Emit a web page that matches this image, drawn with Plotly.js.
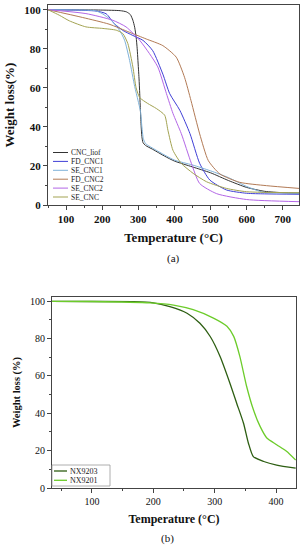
<!DOCTYPE html>
<html>
<head>
<meta charset="utf-8">
<script src="https://cdn.plot.ly/plotly-3.0.1.min.js"></script>
<style>html,body{margin:0;padding:0;background:#fff;}#chart{width:304px;height:550px;}</style>
</head>
<body>
<div id="chart"></div>
<script>
// ---- Panel (a) data ----
const namesA = ["CNC_liof", "FD_CNC1", "SE_CNC1", "FD_CNC2", "SE_CNC2", "SE_CNC"];
const colorsA = ["#333333", "#3f3fd6", "#7fb2d9", "#b27a55", "#b366e6", "#a3a352"];

const T_CNC_liof = [50, 150, 200, 250, 267, 278, 285, 290, 294, 297, 299, 302, 304, 306, 308, 310, 313, 320, 340, 373, 400, 450, 500, 550, 600, 650, 700, 745];
const W_CNC_liof = [100, 99.9, 99.8, 99.5, 98.9, 97.5, 94.6, 91, 86, 80, 74, 65, 57, 48, 40, 35, 32, 30.5, 28.5, 25, 22.5, 19.5, 16.5, 12.5, 9, 7, 6.3, 6];

const T_FD_CNC1 = [50, 120, 183, 211, 234, 257, 285, 313, 340, 368, 387, 415, 443, 470, 498, 544, 600, 650, 745];
const W_FD_CNC1 = [100, 99.8, 99.3, 97.9, 92.8, 89.4, 86.8, 84.3, 79, 67, 57, 48.5, 36.6, 21.3, 12.8, 7.7, 6, 5.7, 5.5];

const T_SE_CNC1 = [50, 150, 180, 200, 225, 248, 262, 276, 290, 299, 306, 310, 314, 320, 350, 400, 450, 500, 550, 600, 646, 700, 745];
const W_SE_CNC1 = [100, 99.8, 99.5, 98, 94.6, 89.5, 84.4, 74, 60.7, 53.7, 48, 40, 34, 31.5, 28, 23, 20.5, 17.5, 14, 9.5, 6.5, 6.2, 6];

const T_FD_CNC2 = [50, 146, 219, 276, 322, 368, 405, 428, 446, 470, 494, 526, 581, 655, 745];
const W_FD_CNC2 = [100, 96, 92.6, 88.4, 85, 81.6, 75.7, 65.4, 53.4, 36.4, 22.7, 15.9, 11.6, 9.9, 8.5];

const T_SE_CNC2 = [50, 155, 229, 266, 304, 331, 354, 378, 396, 419, 447, 470, 517, 600, 745];
const W_SE_CNC2 = [100, 98, 94.6, 91.2, 84.3, 77.5, 70.7, 57, 46.9, 36.6, 21.3, 11, 5.8, 2.8, 1.7];

const T_SE_CNC = [50, 81, 109, 155, 202, 239, 257, 271, 285, 294, 304, 326, 350, 373, 382, 396, 419, 452, 489, 544, 600, 745];
const W_SE_CNC = [100, 97.2, 94.3, 91.2, 90.4, 89.5, 87.8, 82.7, 70.7, 60, 55, 52, 49.4, 46, 38.3, 28, 21.3, 16.2, 11.9, 8.5, 6.8, 6.3];

// ---- Panel (b) data ----
const namesB = ["NX9203", "NX9201"];
const colorsB = ["#2d5e12", "#6ccc2a"];
const T_NX9203 = [35, 100, 168, 200, 227, 255, 276, 293, 309, 325, 336, 347, 355, 363, 380, 401, 432];
const W_NX9203 = [100, 99.9, 99.8, 99.2, 97.1, 93.6, 88.2, 81, 70.3, 56, 45.3, 34.7, 24, 16.8, 14.2, 12.3, 10.6];
const T_NX9201 = [35, 100, 195, 233, 265, 298, 320, 331, 341, 352, 363, 374, 385, 401, 417, 432];
const W_NX9201 = [100, 99.9, 99.2, 98, 95.5, 91, 86.6, 81.2, 70.5, 54.5, 42, 33, 26.8, 23.2, 19.7, 15];

const seriesA = [
  [T_CNC_liof, W_CNC_liof], [T_FD_CNC1, W_FD_CNC1], [T_SE_CNC1, W_SE_CNC1],
  [T_FD_CNC2, W_FD_CNC2], [T_SE_CNC2, W_SE_CNC2], [T_SE_CNC, W_SE_CNC]
];
const seriesB = [[T_NX9203, W_NX9203], [T_NX9201, W_NX9201]];

const W = 304, H = 550;
const px = x => x / W, py = y => 1 - y / H;

const traces = [];
seriesA.forEach((s, i) => traces.push({
  x: s[0], y: s[1], type: "scatter", mode: "lines", name: namesA[i],
  line: {color: colorsA[i], width: 1, shape: "spline", smoothing: 0.6},
  xaxis: "x", yaxis: "y", showlegend: false
}));
seriesB.forEach((s, i) => traces.push({
  x: s[0], y: s[1], type: "scatter", mode: "lines", name: namesB[i],
  line: {color: colorsB[i], width: 1.3, shape: "spline", smoothing: 0.6},
  xaxis: "x2", yaxis: "y2", showlegend: false
}));

const serif = "Liberation Serif, Times New Roman, serif";
const axBase = {
  showline: true, linecolor: "#444", linewidth: 1, mirror: true,
  ticks: "outside", ticklen: 4, tickwidth: 1, tickcolor: "#444",
  showgrid: false, zeroline: false,
  minor: {ticks: "outside", ticklen: 2, tickcolor: "#444", showgrid: false}
};

const shapes = [], annotations = [];
// manual legend (a)
namesA.forEach((n, i) => {
  const y = 152.5 + i * 8.9;
  shapes.push({type: "line", xref: "paper", yref: "paper", x0: px(53), x1: px(68), y0: py(y), y1: py(y),
    line: {color: colorsA[i], width: 1}});
  annotations.push({xref: "paper", yref: "paper", x: px(69), y: py(y), xanchor: "left", yanchor: "middle",
    text: n, showarrow: false, font: {family: serif, size: 7.5, color: "#222"}});
});
// manual legend (b)
shapes.push({type: "rect", xref: "paper", yref: "paper", x0: px(52), x1: px(110), y0: py(465), y1: py(486),
  line: {color: "#999", width: 0.8}, fillcolor: "rgba(255,255,255,0)"});
namesB.forEach((n, i) => {
  const y = 471 + i * 9.3;
  shapes.push({type: "line", xref: "paper", yref: "paper", x0: px(54), x1: px(67), y0: py(y), y1: py(y),
    line: {color: colorsB[i], width: 1.3}});
  annotations.push({xref: "paper", yref: "paper", x: px(68), y: py(y), xanchor: "left", yanchor: "middle",
    text: n, showarrow: false, font: {family: serif, size: 8, color: "#222"}});
});
annotations.push({xref: "paper", yref: "paper", x: px(173), y: py(258), xanchor: "center", yanchor: "middle",
  text: "(a)", showarrow: false, font: {family: serif, size: 11, color: "#111"}});
annotations.push({xref: "paper", yref: "paper", x: px(167), y: py(538), xanchor: "center", yanchor: "middle",
  text: "(b)", showarrow: false, font: {family: serif, size: 11, color: "#111"}});

const layout = {
  width: W, height: H, margin: {l: 0, r: 0, t: 0, b: 0},
  paper_bgcolor: "#fff", plot_bgcolor: "#fff", showlegend: false,
  font: {family: serif, color: "#111"},
  xaxis: Object.assign({}, axBase, {
    domain: [px(48), px(299)], range: [50, 745], anchor: "y",
    tickvals: [100, 200, 300, 400, 500, 600, 700], minor: Object.assign({}, axBase.minor, {dtick: 50}),
    tickfont: {family: serif, size: 11, weight: "bold"},
    title: {text: "<b>Temperature (°C)</b>", font: {family: serif, size: 13}, standoff: 8}
  }),
  yaxis: Object.assign({}, axBase, {
    domain: [py(205), py(5)], range: [0, 102.4], anchor: "x",
    tickvals: [0, 20, 40, 60, 80, 100], minor: Object.assign({}, axBase.minor, {dtick: 10}),
    tickfont: {family: serif, size: 11, weight: "bold"},
    title: {text: "<b>Weight loss(%)</b>", font: {family: serif, size: 13}, standoff: 6}
  }),
  xaxis2: Object.assign({}, axBase, {
    domain: [px(52), px(296)], range: [35, 432.5], anchor: "y2",
    tickvals: [100, 200, 300, 400], minor: Object.assign({}, axBase.minor, {dtick: 50}),
    tickfont: {family: serif, size: 10},
    title: {text: "<b>Temperature (°C)</b>", font: {family: serif, size: 12}, standoff: 8}
  }),
  yaxis2: Object.assign({}, axBase, {
    domain: [py(488), py(297)], range: [0, 102.3], anchor: "x2",
    tickvals: [0, 20, 40, 60, 80, 100], minor: Object.assign({}, axBase.minor, {dtick: 10}),
    tickfont: {family: serif, size: 10},
    title: {text: "<b>Weight loss (%)</b>", font: {family: serif, size: 10.5}, standoff: 7}
  }),
  shapes: shapes, annotations: annotations
};

Plotly.newPlot("chart", traces, layout, {displayModeBar: false, staticPlot: true});
</script>
</body>
</html>
